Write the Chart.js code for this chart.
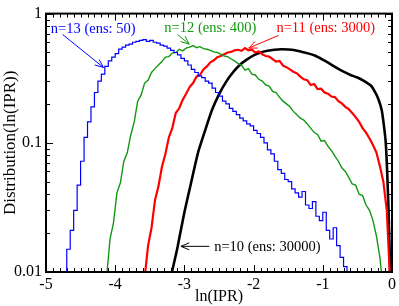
<!DOCTYPE html>
<html>
<head>
<meta charset="utf-8">
<script src="https://cdn.jsdelivr.net/npm/chart.js@4.4.1/dist/chart.umd.min.js"></script>
<style>
  html, body { margin: 0; padding: 0; background: #ffffff; }
  #chart { display: block; }
</style>
</head>
<body>
<canvas id="chart" width="399" height="306"></canvas>
<script>
// histogram bins: left edge of first bin, then one value per 0.05 wide bin
const binWidth = 0.05;

const blueStart = -4.75; // n=13 (ens: 50)
const blueValues = [
  0.009, 0.015, 0.021, 0.030, 0.047, 0.072, 0.11, 0.145, 0.19, 0.245,
  0.30, 0.34, 0.39, 0.43, 0.46, 0.49, 0.53, 0.55, 0.57, 0.58,
  0.60, 0.61, 0.62, 0.63, 0.61, 0.62, 0.60, 0.59, 0.57, 0.56,
  0.54, 0.52, 0.50, 0.48, 0.45, 0.43, 0.40, 0.37, 0.35, 0.33,
  0.32, 0.30, 0.29, 0.265, 0.245, 0.23, 0.21, 0.20, 0.185, 0.175,
  0.165, 0.155, 0.148, 0.14, 0.135, 0.125, 0.118, 0.11, 0.10, 0.088,
  0.082, 0.072, 0.062, 0.058, 0.052, 0.05, 0.044, 0.041, 0.038, 0.042,
  0.033, 0.031, 0.035, 0.027, 0.025, 0.029, 0.021, 0.018, 0.022, 0.016,
  0.013, 0.011, 0.008
];

const greenStart = -4.15; // n=12 (ens: 400)
const greenValues = [
  0.009, 0.018, 0.024, 0.041, 0.049, 0.072, 0.084, 0.115, 0.145, 0.21,
  0.235, 0.29, 0.305, 0.35, 0.375, 0.40, 0.425, 0.46, 0.465, 0.495,
  0.50, 0.53, 0.515, 0.54, 0.55, 0.565, 0.545, 0.555, 0.535, 0.53,
  0.52, 0.505, 0.50, 0.485, 0.47, 0.465, 0.445, 0.43, 0.41, 0.40,
  0.365, 0.375, 0.34, 0.335, 0.31, 0.30, 0.28, 0.275, 0.25, 0.245,
  0.225, 0.21, 0.2, 0.19, 0.175, 0.165, 0.155, 0.15, 0.14, 0.13,
  0.12, 0.116, 0.103, 0.104, 0.094, 0.087, 0.079, 0.072, 0.064, 0.06,
  0.054, 0.048, 0.047, 0.04, 0.039, 0.033, 0.030, 0.025, 0.019, 0.013,
  0.007
];

const redStart = -3.60; // n=11 (ens: 3000)
const redValues = [
  0.009, 0.016, 0.022, 0.036, 0.046, 0.065, 0.082, 0.11, 0.13, 0.17,
  0.185, 0.215, 0.24, 0.27, 0.29, 0.325, 0.335, 0.37, 0.39, 0.42,
  0.435, 0.46, 0.47, 0.485, 0.5, 0.505, 0.52, 0.525, 0.515, 0.54,
  0.52, 0.525, 0.50, 0.51, 0.485, 0.47, 0.465, 0.445, 0.425, 0.43,
  0.395, 0.385, 0.37, 0.355, 0.345, 0.325, 0.31, 0.305, 0.28, 0.285,
  0.26, 0.262, 0.245, 0.24, 0.228, 0.226, 0.21, 0.202, 0.19, 0.182,
  0.17, 0.158, 0.145, 0.13, 0.12, 0.108, 0.096, 0.084, 0.066, 0.05,
  0.03, 0.008
];

// n=10 (ens: 30000) is smooth enough to draw as a plain line
const blackX = [
  -3.18, -3.1, -3.0, -2.9, -2.8, -2.7, -2.6, -2.5, -2.4, -2.3,
  -2.2, -2.1, -2.0, -1.9, -1.8, -1.7, -1.6, -1.5, -1.4, -1.3,
  -1.2, -1.1, -1.0, -0.9, -0.8, -0.7, -0.6, -0.5, -0.4, -0.3,
  -0.25, -0.2, -0.15, -0.12, -0.09, -0.07, -0.05, -0.03, -0.02
];
const blackValues = [
  0.01, 0.0155, 0.029, 0.05, 0.085, 0.125, 0.18, 0.237, 0.295, 0.35,
  0.40, 0.44, 0.475, 0.50, 0.515, 0.525, 0.53, 0.528, 0.52, 0.505,
  0.49, 0.47, 0.44, 0.41, 0.38, 0.355, 0.335, 0.32, 0.30, 0.275,
  0.25, 0.22, 0.18, 0.14, 0.1, 0.06, 0.03, 0.012, 0.008
];

const xMajorTicks = [-5, -4, -3, -2, -1, 0];
const yMajorTicks = [0.01, 0.1, 1];

// labels and arrows, in data units: [ln(IPR), distribution]
const notes = [
  { text: "n=13 (ens: 50)", color: "#0000ff", at: [-4.93, 0.714], from: [-4.76, 0.689], to: [-4.17, 0.383] },
  { text: "n=12 (ens: 400)", color: "#119911", at: [-3.29, 0.726], from: [-3.10, 0.689], to: [-2.93, 0.58] },
  { text: "n=11 (ens: 3000)", color: "#ff0000", at: [-1.67, 0.726], from: [-1.64, 0.678], to: [-2.07, 0.541] },
  { text: "n=10 (ens: 30000)", color: "#000000", at: [-2.57, 0.0145], from: [-2.64, 0.0158], to: [-3.05, 0.0158] },
];

const serif = "'Liberation Serif', 'DejaVu Serif', serif";

function histogramSteps(start, values) {
  const pts = values.map((v, i) => ({ x: start + i * binWidth, y: v }));
  pts.push({ x: start + values.length * binWidth, y: values[values.length - 1] });
  return pts;
}

function histogramCentres(start, values) {
  return values.map((v, i) => ({ x: start + (i + 0.5) * binWidth, y: v }));
}

function drawArrow(ctx, x0, y0, x1, y1) {
  const ang = Math.atan2(y1 - y0, x1 - x0);
  const head = 9;
  const spread = 0.4;
  ctx.beginPath();
  ctx.moveTo(x0, y0);
  ctx.lineTo(x1, y1);
  ctx.moveTo(x1 - head * Math.cos(ang - spread), y1 - head * Math.sin(ang - spread));
  ctx.lineTo(x1, y1);
  ctx.lineTo(x1 - head * Math.cos(ang + spread), y1 - head * Math.sin(ang + spread));
  ctx.stroke();
}

const framePlugin = {
  id: "frame",
  afterDatasetsDraw(chart) {
    const { ctx, chartArea: a, scales: { x, y } } = chart;
    ctx.save();
    ctx.strokeStyle = "#000";
    ctx.lineWidth = 1;

    const tick = (x0, y0, x1, y1) => {
      ctx.beginPath();
      ctx.moveTo(x0, y0);
      ctx.lineTo(x1, y1);
      ctx.stroke();
    };

    // inward ticks on all four sides
    for (let k = -50; k <= 0; k++) {
      const px = Math.round(x.getPixelForValue(k / 10)) + 0.5;
      const len = k % 10 === 0 ? 7 : 4;
      tick(px, a.bottom, px, a.bottom - len);
      tick(px, a.top, px, a.top + len);
    }
    for (let d = 0; d < yMajorTicks.length; d++) {
      const base = yMajorTicks[d];
      for (let m = 1; m <= (base === 1 ? 1 : 9); m++) {
        const py = Math.round(y.getPixelForValue(base * m)) + 0.5;
        const len = m === 1 ? 7 : 4;
        tick(a.left, py, a.left + len, py);
        tick(a.right, py, a.right - len, py);
      }
    }

    ctx.lineWidth = 2;
    ctx.strokeRect(a.left, a.top, a.right - a.left, a.bottom - a.top);

    ctx.font = `14.5px ${serif}`;
    ctx.textBaseline = "alphabetic";
    ctx.textAlign = "left";
    ctx.lineWidth = 1;
    notes.forEach(n => {
      ctx.fillStyle = n.color;
      ctx.strokeStyle = n.color;
      ctx.fillText(n.text, x.getPixelForValue(n.at[0]), y.getPixelForValue(n.at[1]));
      drawArrow(
        ctx,
        x.getPixelForValue(n.from[0]), y.getPixelForValue(n.from[1]),
        x.getPixelForValue(n.to[0]), y.getPixelForValue(n.to[1])
      );
    });
    ctx.restore();
  },
};

new Chart(document.getElementById("chart"), {
  type: "line",
  data: {
    datasets: [
      {
        label: "n=13",
        data: histogramSteps(blueStart, blueValues),
        borderColor: "#0000ff",
        borderWidth: 1.2,
        stepped: "before",
        pointRadius: 0,
      },
      {
        label: "n=12",
        data: histogramCentres(greenStart, greenValues),
        borderColor: "#119911",
        borderWidth: 1.4,
        pointRadius: 0,
      },
      {
        label: "n=11",
        data: histogramCentres(redStart, redValues),
        borderColor: "#ff0000",
        borderWidth: 2.2,
        pointRadius: 0,
      },
      {
        label: "n=10",
        data: blackX.map((v, i) => ({ x: v, y: blackValues[i] })),
        borderColor: "#000000",
        borderWidth: 2.6,
        tension: 0.2,
        pointRadius: 0,
      },
    ],
  },
  options: {
    responsive: false,
    animation: false,
    layout: { padding: { top: 6, right: 5, left: 0, bottom: 0 } },
    plugins: {
      legend: { display: false },
      tooltip: { enabled: false },
    },
    scales: {
      x: {
        type: "linear",
        min: -5,
        max: 0,
        afterFit: s => { s.height = 34; },
        afterBuildTicks: s => { s.ticks = xMajorTicks.map(v => ({ value: v })); },
        grid: { display: false, drawTicks: false },
        border: { display: false },
        ticks: {
          color: "#000",
          padding: 3,
          maxRotation: 0,
          font: { family: serif, size: 16 },
          callback: v => String(v),
        },
        title: {
          display: true,
          text: "ln(IPR)",
          color: "#000",
          padding: 0,
          font: { family: serif, size: 16 },
        },
      },
      y: {
        type: "logarithmic",
        min: 0.01,
        max: 1,
        afterFit: s => { s.width = 46; },
        afterBuildTicks: s => { s.ticks = yMajorTicks.map(v => ({ value: v })); },
        grid: { display: false, drawTicks: false },
        border: { display: false },
        ticks: {
          color: "#000",
          padding: 4,
          font: { family: serif, size: 16 },
          callback: v => String(v),
        },
        title: {
          display: true,
          text: "Distribution(ln(IPR))",
          color: "#000",
          padding: 0,
          font: { family: serif, size: 17 },
        },
      },
    },
  },
  plugins: [framePlugin],
});
</script>
</body>
</html>
